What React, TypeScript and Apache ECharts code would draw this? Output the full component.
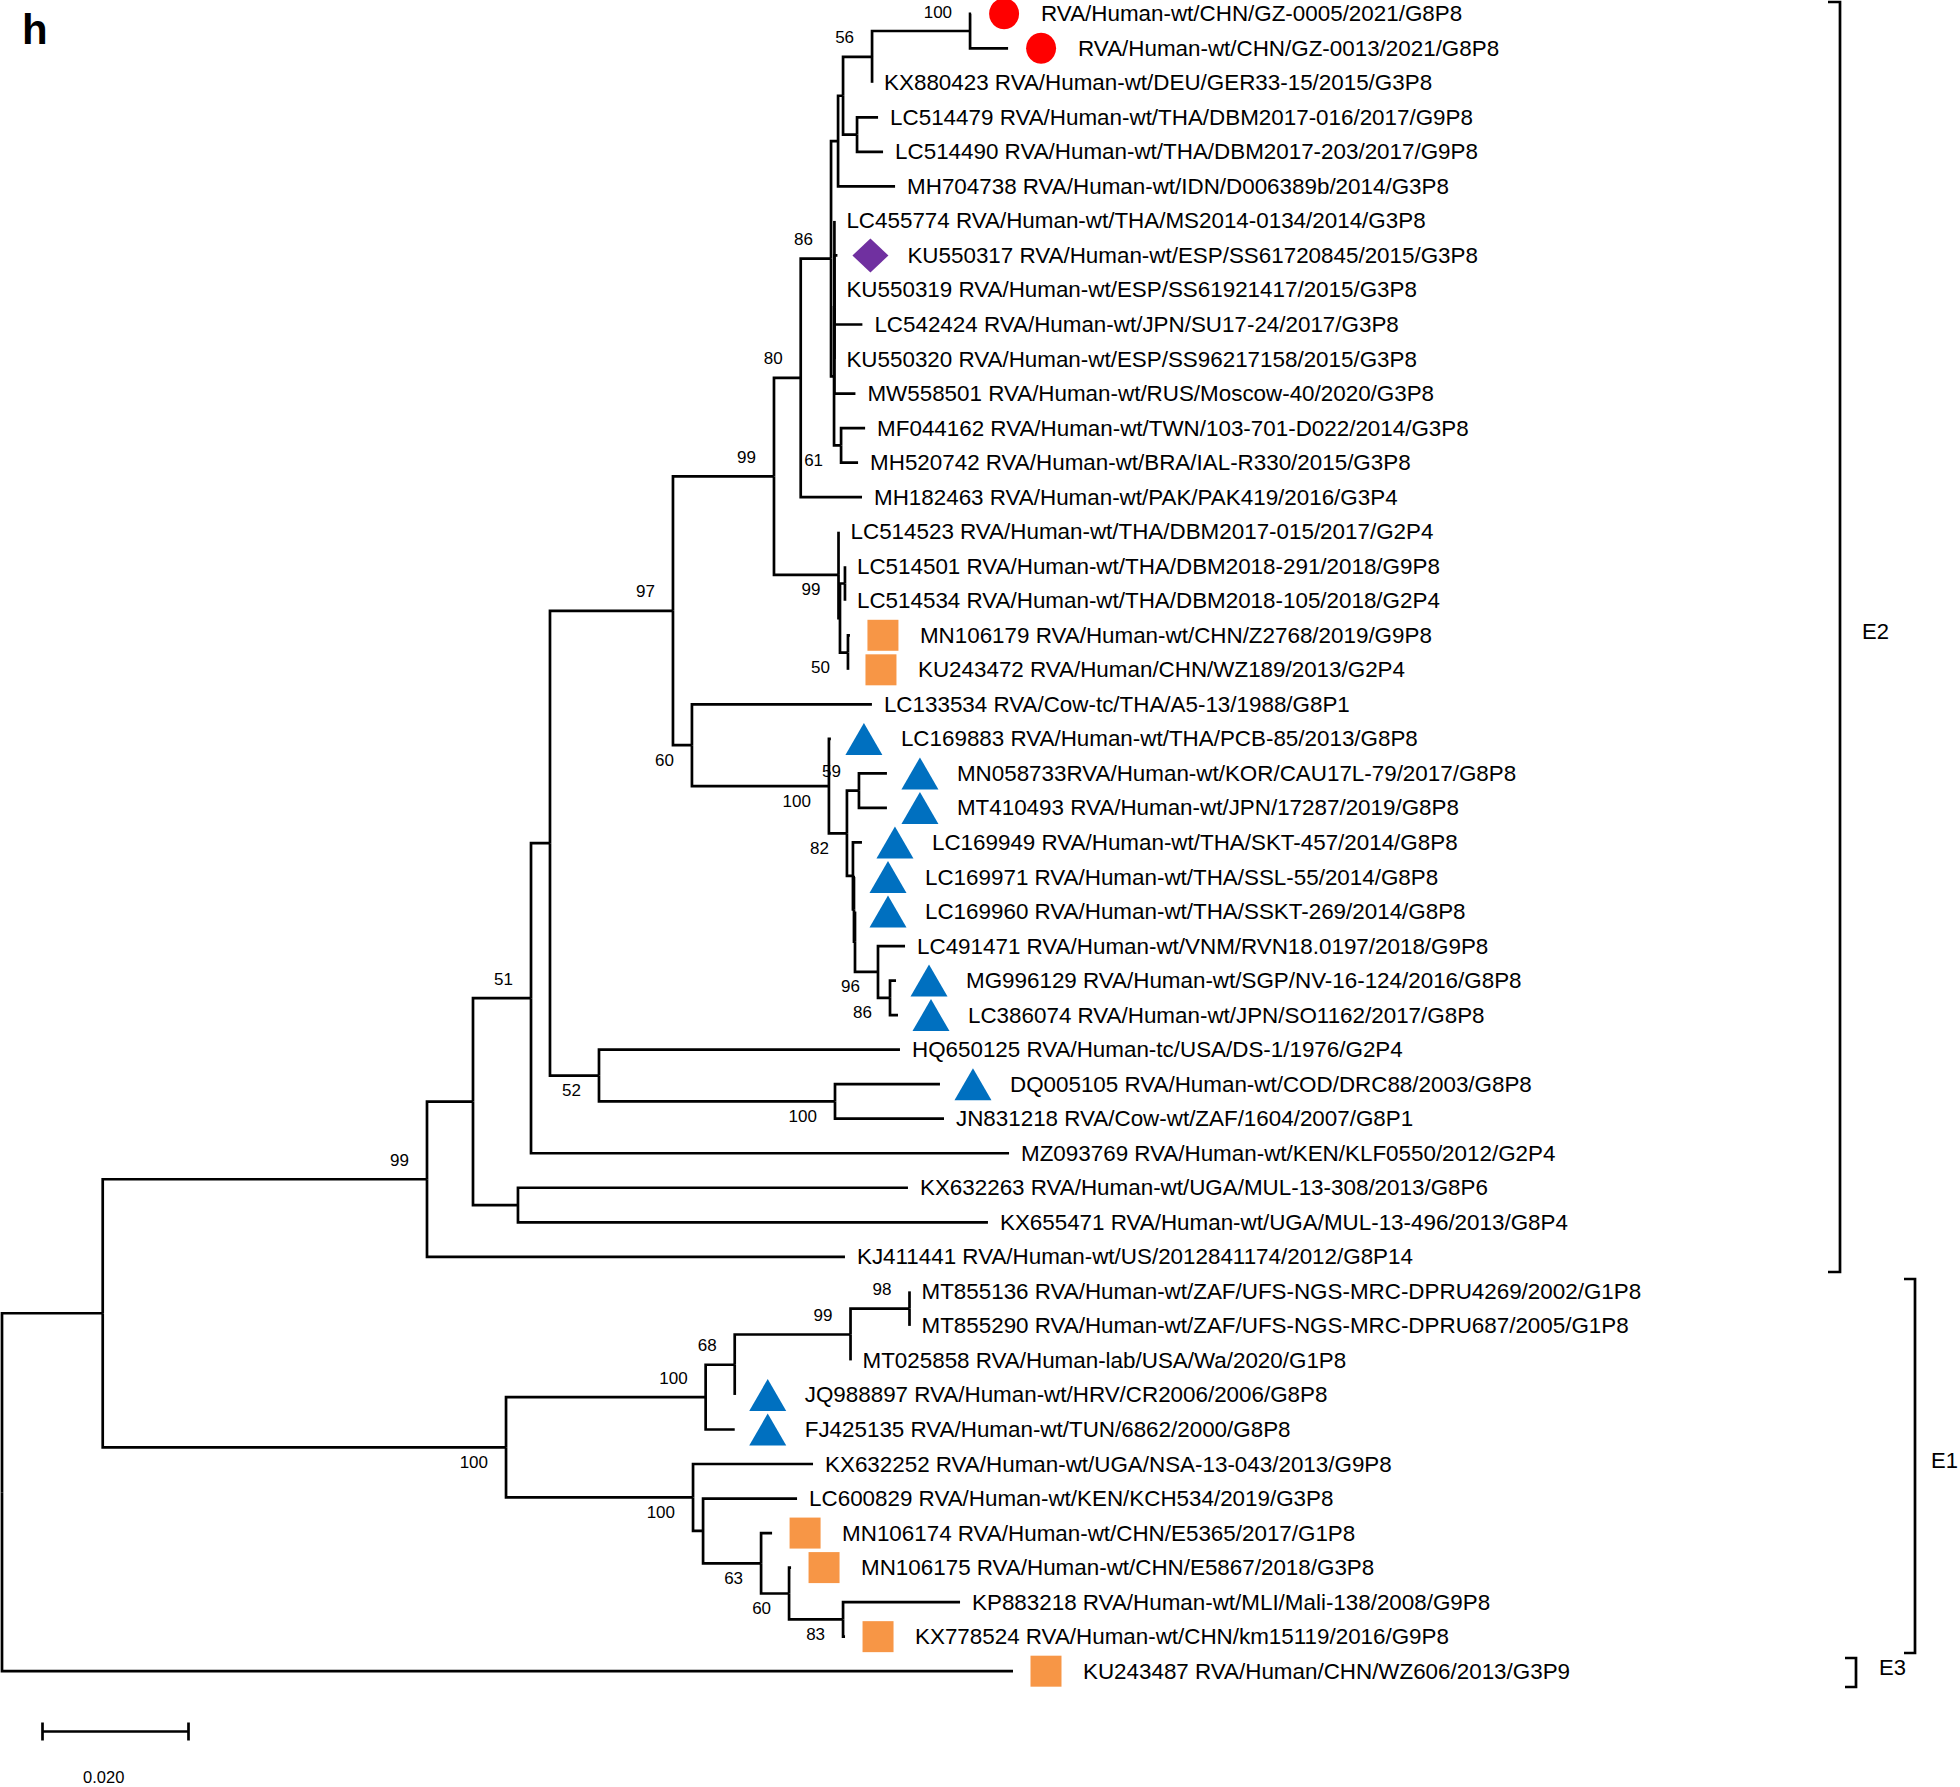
import React, { useEffect, useRef } from "react";
import * as echarts from "echarts";

const FONT = "'Liberation Sans', Arial, Helvetica, sans-serif";

// Leaf labels, top to bottom
const leafNames: string[] = [
  "RVA/Human-wt/CHN/GZ-0005/2021/G8P8",
  "RVA/Human-wt/CHN/GZ-0013/2021/G8P8",
  "KX880423 RVA/Human-wt/DEU/GER33-15/2015/G3P8",
  "LC514479 RVA/Human-wt/THA/DBM2017-016/2017/G9P8",
  "LC514490 RVA/Human-wt/THA/DBM2017-203/2017/G9P8",
  "MH704738 RVA/Human-wt/IDN/D006389b/2014/G3P8",
  "LC455774 RVA/Human-wt/THA/MS2014-0134/2014/G3P8",
  "KU550317 RVA/Human-wt/ESP/SS61720845/2015/G3P8",
  "KU550319 RVA/Human-wt/ESP/SS61921417/2015/G3P8",
  "LC542424 RVA/Human-wt/JPN/SU17-24/2017/G3P8",
  "KU550320 RVA/Human-wt/ESP/SS96217158/2015/G3P8",
  "MW558501 RVA/Human-wt/RUS/Moscow-40/2020/G3P8",
  "MF044162 RVA/Human-wt/TWN/103-701-D022/2014/G3P8",
  "MH520742 RVA/Human-wt/BRA/IAL-R330/2015/G3P8",
  "MH182463 RVA/Human-wt/PAK/PAK419/2016/G3P4",
  "LC514523 RVA/Human-wt/THA/DBM2017-015/2017/G2P4",
  "LC514501 RVA/Human-wt/THA/DBM2018-291/2018/G9P8",
  "LC514534 RVA/Human-wt/THA/DBM2018-105/2018/G2P4",
  "MN106179 RVA/Human-wt/CHN/Z2768/2019/G9P8",
  "KU243472 RVA/Human/CHN/WZ189/2013/G2P4",
  "LC133534 RVA/Cow-tc/THA/A5-13/1988/G8P1",
  "LC169883 RVA/Human-wt/THA/PCB-85/2013/G8P8",
  "MN058733RVA/Human-wt/KOR/CAU17L-79/2017/G8P8",
  "MT410493 RVA/Human-wt/JPN/17287/2019/G8P8",
  "LC169949 RVA/Human-wt/THA/SKT-457/2014/G8P8",
  "LC169971 RVA/Human-wt/THA/SSL-55/2014/G8P8",
  "LC169960 RVA/Human-wt/THA/SSKT-269/2014/G8P8",
  "LC491471 RVA/Human-wt/VNM/RVN18.0197/2018/G9P8",
  "MG996129 RVA/Human-wt/SGP/NV-16-124/2016/G8P8",
  "LC386074 RVA/Human-wt/JPN/SO1162/2017/G8P8",
  "HQ650125 RVA/Human-tc/USA/DS-1/1976/G2P4",
  "DQ005105 RVA/Human-wt/COD/DRC88/2003/G8P8",
  "JN831218 RVA/Cow-wt/ZAF/1604/2007/G8P1",
  "MZ093769 RVA/Human-wt/KEN/KLF0550/2012/G2P4",
  "KX632263 RVA/Human-wt/UGA/MUL-13-308/2013/G8P6",
  "KX655471 RVA/Human-wt/UGA/MUL-13-496/2013/G8P4",
  "KJ411441 RVA/Human-wt/US/2012841174/2012/G8P14",
  "MT855136 RVA/Human-wt/ZAF/UFS-NGS-MRC-DPRU4269/2002/G1P8",
  "MT855290 RVA/Human-wt/ZAF/UFS-NGS-MRC-DPRU687/2005/G1P8",
  "MT025858 RVA/Human-lab/USA/Wa/2020/G1P8",
  "JQ988897 RVA/Human-wt/HRV/CR2006/2006/G8P8",
  "FJ425135 RVA/Human-wt/TUN/6862/2000/G8P8",
  "KX632252 RVA/Human-wt/UGA/NSA-13-043/2013/G9P8",
  "LC600829 RVA/Human-wt/KEN/KCH534/2019/G3P8",
  "MN106174 RVA/Human-wt/CHN/E5365/2017/G1P8",
  "MN106175 RVA/Human-wt/CHN/E5867/2018/G3P8",
  "KP883218 RVA/Human-wt/MLI/Mali-138/2008/G9P8",
  "KX778524 RVA/Human-wt/CHN/km15119/2016/G9P8",
  "KU243487 RVA/Human/CHN/WZ606/2013/G3P9",
];

// Marked leaves (1-based leaf numbers)
const circleLeaves = [1, 2];
const diamondLeaves = [8];
const squareLeaves = [19, 20, 45, 46, 48, 49];
const triangleLeaves = [22, 23, 24, 25, 26, 27, 29, 30, 32, 41, 42];

// Tree (Newick). Leaves tN = leaf number N. Internal labels = bootstrap; suffix "b" = label drawn below the branch.
const treeNewick = `(
 (
  (
   (
    (
     (
      (
       (
        (
         (
          (
           (
            (
             (t1:0.00014,t2:0.00519)100:0.01338,
             t3:0
            )56:0.00396,
            (t4:0.00287,t5:0.00355):0.00191
           ):0.00068,
           t6:0.00778
          ):0.00096,
          (
           (t7:0,t8:0.00041,t9:0,t10:0.00382,t11:0,t12:0.00287):0.00005,
           (t13:0.00328,t14:0.00232)61b:0.00096
          ):0.00041
         )86:0.00414,
         t15:0.00837
        )80:0.00365,
        (t16:0,((t17:0,t18:0):0.00068,(t19:0.00027,t20:0)50b:0.00109):0.0002)99b:0.00881
       )99:0.01379,
       (
        t21:0.02457,
        (
         t22:0.00027,
         (
          (t23:0.00382,t24:0.00382)59:0.00164,
          (t25:0.00123,(t26:0.00014,(t27:0,(t28:0.00369,(t29:0.00082,t30:0.00109)86b:0.00164)96b:0.00314):0.00014):0.00014):0.00082
         )82b:0.00246
        )100b:0.0187
       )60b:0.00259
      )97:0.01679,
      (t31:0.04109,(t32:0.01433,t33:0.01488)100b:0.03222)52b:0.00669
     ):0.00259,
     t34:0.06526
    )51:0.00792,
    (t35:0.05324,t36:0.06416):0.00614
   ):0.00628,
   t37:0.05706
  )99:0.04427,
  (
   (
    (
     ((t38:0,t39:0)98:0.00805,t40:0)99:0.01581,
     t41:0
    )68:0.00397,
    t42:0.00397
   )100:0.02725,
   (t43:0.01638,(t44:0.01283,(t45:0.0015,(t46:0.00027,(t47:0.01597,t48:0.00027)83b:0.00737)60b:0.00382)63b:0.00792):0.00137)100b:0.02553
  )100b:0.05506
 ):0.01375,
 t49:0.13802
);`;

const scaleBarStart = 0.00549;
const scaleBarLength = 0.02;
const scaleBarLabel = "0.020";
const cladeNames = ["E2", "E1", "E3"];

type TNode = {
  name: string;
  label: string;
  len: number;
  children: TNode[];
  depth: number;
  y: number;
  parent?: TNode;
};

function parseNewick(src: string): TNode {
  const s = src.replace(/\s+/g, "");
  let i = 0;
  const parse = (): TNode => {
    const node: TNode = { name: "", label: "", len: 0, children: [], depth: 0, y: 0 };
    if (s[i] === "(") {
      i++;
      node.children.push(parse());
      while (s[i] === ",") {
        i++;
        node.children.push(parse());
      }
      i++;
    }
    let tok = "";
    while (i < s.length && ",():;".indexOf(s[i]) < 0) tok += s[i++];
    if (s[i] === ":") {
      i++;
      let num = "";
      while (i < s.length && ",();".indexOf(s[i]) < 0) num += s[i++];
      node.len = parseFloat(num);
    }
    if (node.children.length) node.label = tok;
    else node.name = tok;
    return node;
  };
  return parse();
}

function layoutTree(node: TNode, parentDepth: number) {
  node.depth = parentDepth + node.len;
  if (!node.children.length) {
    node.y = parseInt(node.name.slice(1), 10) - 1;
    return;
  }
  node.children.forEach((c) => {
    c.parent = node;
    layoutTree(c, node.depth);
  });
  node.y = (node.children[0].y + node.children[node.children.length - 1].y) / 2;
}

function collect(node: TNode, out: TNode[]) {
  out.push(node);
  node.children.forEach((c) => collect(c, out));
}

const W = 1960;
const H = 1787;
const ROW = 34.53;
const TOP = 13.75;
const LEFT = 2;
const PX_PER_UNIT = 7325;
const X_MAX = 0.26;
const LEAF_FONT = 22.4;
const SUPPORT_FONT = 17;
const LINE_W = 2.7;

export default function App() {
  const ref = useRef<HTMLDivElement>(null);

  useEffect(() => {
    if (!ref.current) return;
    const chart = echarts.init(ref.current, undefined, { renderer: "svg" });

    const root = parseNewick(treeNewick);
    layoutTree(root, 0);
    const all: TNode[] = [];
    collect(root, all);
    const leaves = all.filter((n) => !n.children.length).sort((a, b) => a.y - b.y);
    const internals = all.filter((n) => n.children.length && n.label);

    const branches = all
      .filter((n) => n.parent)
      .map((n) => ({
        coords: [
          [n.parent!.depth, n.parent!.y],
          [n.parent!.depth, n.y],
          [n.depth, n.y],
        ],
      }));

    const marked = new Set([...circleLeaves, ...diamondLeaves, ...squareLeaves, ...triangleLeaves]);
    const leafPos = (num: number) => {
      const l = leaves[num - 1];
      return l ? [l.depth, l.y] : [0, 0];
    };

    const markerSeries = (nums: number[], symbol: string, size: number[], color: string) => ({
      type: "scatter",
      data: nums.map(leafPos),
      symbol,
      symbolSize: size,
      symbolOffset: [33, 0],
      itemStyle: { color, opacity: 1 },
      silent: true,
      clip: false,
      z: 5,
    });

    const scaleY = (1731.5 - TOP) / ROW;
    const tickH = 9 / ROW;

    const option: any = {
      animation: false,
      backgroundColor: "#ffffff",
      grid: {
        left: LEFT,
        width: X_MAX * PX_PER_UNIT,
        top: TOP,
        height: 48 * ROW,
      },
      xAxis: { type: "value", min: 0, max: X_MAX, show: false },
      yAxis: { type: "value", min: 0, max: 48, inverse: true, show: false },
      series: [
        {
          type: "lines",
          coordinateSystem: "cartesian2d",
          polyline: true,
          data: branches,
          lineStyle: { color: "#000000", width: LINE_W, opacity: 1, curveness: 0, join: "miter" },
          silent: true,
          clip: false,
          z: 3,
        },
        {
          type: "lines",
          coordinateSystem: "cartesian2d",
          data: [
            { coords: [[scaleBarStart, scaleY], [scaleBarStart + scaleBarLength, scaleY]] },
            { coords: [[scaleBarStart, scaleY - tickH], [scaleBarStart, scaleY + tickH]] },
            {
              coords: [
                [scaleBarStart + scaleBarLength, scaleY - tickH],
                [scaleBarStart + scaleBarLength, scaleY + tickH],
              ],
            },
          ],
          lineStyle: { color: "#000000", width: LINE_W, opacity: 1 },
          silent: true,
          clip: false,
        },
        {
          type: "custom",
          coordinateSystem: "cartesian2d",
          data: [[scaleBarStart + 0.0084, (1777 - TOP) / ROW]],
          clip: false,
          silent: true,
          renderItem: (params: any, api: any) => {
            const p = api.coord([api.value(0), api.value(1)]);
            return {
              type: "text",
              x: p[0],
              y: p[1],
              style: {
                text: scaleBarLabel,
                fontSize: 16.5,
                fontFamily: FONT,
                fill: "#000",
                align: "center",
                verticalAlign: "middle",
              },
            };
          },
        },
        // leaf labels
        {
          type: "custom",
          coordinateSystem: "cartesian2d",
          data: leaves.map((l) => [l.depth, l.y]),
          clip: false,
          silent: true,
          z: 4,
          renderItem: (params: any, api: any) => {
            const idx = params.dataIndex;
            const p = api.coord([api.value(0), api.value(1)]);
            const dx = marked.has(idx + 1) ? 70 : 12;
            return {
              type: "text",
              x: p[0] + dx,
              y: p[1],
              style: {
                text: leafNames[idx],
                fontSize: LEAF_FONT,
                fontFamily: FONT,
                fill: "#000",
                align: "left",
                verticalAlign: "middle",
              },
            };
          },
        },
        // bootstrap labels
        {
          type: "custom",
          coordinateSystem: "cartesian2d",
          data: internals.map((n) => [n.depth, n.y]),
          clip: false,
          silent: true,
          z: 4,
          renderItem: (params: any, api: any) => {
            const n = internals[params.dataIndex];
            const below = n.label.endsWith("b");
            const txt = n.label.replace("b", "");
            const p = api.coord([api.value(0), api.value(1)]);
            return {
              type: "text",
              x: p[0] - 18,
              y: p[1] + (below ? 15 : -19),
              style: {
                text: txt,
                fontSize: SUPPORT_FONT,
                fontFamily: FONT,
                fill: "#000",
                align: "right",
                verticalAlign: "middle",
              },
            };
          },
        },
        markerSeries(circleLeaves, "circle", [30, 31], "#FF0000"),
        markerSeries(diamondLeaves, "diamond", [36, 34], "#7030A0"),
        markerSeries(squareLeaves, "rect", [31, 31], "#F79646"),
        markerSeries(triangleLeaves, "triangle", [37, 32], "#0070C0"),
      ],
      graphic: [
        {
          type: "text",
          left: 22,
          top: 8,
          style: { text: "h", fontSize: 42, fontWeight: "bold", fontFamily: FONT, fill: "#000" },
        },
        {
          type: "polyline",
          shape: { points: [[1828, 2], [1840, 2], [1840, 1272], [1828, 1272]] },
          style: { stroke: "#000", lineWidth: LINE_W, fill: null },
        },
        {
          type: "polyline",
          shape: { points: [[1904, 1279], [1915, 1279], [1915, 1653], [1904, 1653]] },
          style: { stroke: "#000", lineWidth: LINE_W, fill: null },
        },
        {
          type: "polyline",
          shape: { points: [[1845, 1658], [1856, 1658], [1856, 1687], [1845, 1687]] },
          style: { stroke: "#000", lineWidth: LINE_W, fill: null },
        },
        {
          type: "text",
          x: 1862,
          y: 631,
          style: { text: cladeNames[0], fontSize: 22, fontFamily: FONT, fill: "#000", verticalAlign: "middle" },
        },
        {
          type: "text",
          x: 1931,
          y: 1460,
          style: { text: cladeNames[1], fontSize: 22, fontFamily: FONT, fill: "#000", verticalAlign: "middle" },
        },
        {
          type: "text",
          x: 1879,
          y: 1667,
          style: { text: cladeNames[2], fontSize: 22, fontFamily: FONT, fill: "#000", verticalAlign: "middle" },
        },
      ],
    };

    chart.setOption(option);
    return () => chart.dispose();
  }, []);

  return (
    <div
      ref={ref}
      style={{ position: "absolute", left: 0, top: 0, width: W, height: H, background: "#fff" }}
    />
  );
}
